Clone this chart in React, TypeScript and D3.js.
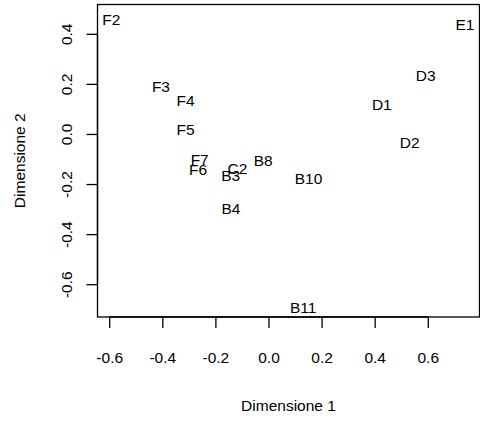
import React, { useEffect, useRef } from 'react';
import * as d3 from 'd3';

// point labels and their coordinates
const labels = ['F2', 'E1', 'D3', 'F3', 'F4', 'D1', 'F5', 'D2', 'F7', 'F6', 'C2', 'B3', 'B8', 'B10', 'B4', 'B11'];
const dim1 = [-0.594, 0.738, 0.590, -0.407, -0.314, 0.425, -0.314, 0.530, -0.261, -0.267, -0.119, -0.144, -0.022, 0.149, -0.143, 0.129];
const dim2 = [0.459, 0.441, 0.237, 0.190, 0.135, 0.121, 0.021, -0.033, -0.100, -0.140, -0.135, -0.163, -0.102, -0.177, -0.295, -0.692];

const xTicks = [-0.6, -0.4, -0.2, 0.0, 0.2, 0.4, 0.6];
const yTicks = [-0.6, -0.4, -0.2, 0.0, 0.2, 0.4];

const width = 480;
const height = 421;
const box = { left: 97.5, top: 4.5, right: 479.5, bottom: 317 };

const App = () => {
  const svgRef = useRef<SVGSVGElement | null>(null);

  useEffect(() => {
    if (!svgRef.current) return;
    d3.select(svgRef.current).selectAll('*').remove();

    const font = 'Liberation Sans, Arial, sans-serif';
    const fs = 15.5;

    const svg = d3.select(svgRef.current);

    const x = d3.scaleLinear().domain([-0.646, 0.793]).range([box.left, box.right]);
    const y = d3.scaleLinear().domain([-0.729, 0.519]).range([box.bottom, box.top]);

    // plot frame
    svg.append('rect')
      .attr('x', box.left)
      .attr('y', box.top)
      .attr('width', box.right - box.left)
      .attr('height', box.bottom - box.top)
      .attr('fill', 'none')
      .attr('stroke', '#000')
      .attr('stroke-width', 1.3);

    // x axis ticks + labels
    svg.append('line')
      .attr('x1', x(xTicks[0])).attr('x2', x(xTicks[xTicks.length - 1]))
      .attr('y1', box.bottom).attr('y2', box.bottom)
      .attr('stroke', '#000').attr('stroke-width', 1.3);
    xTicks.forEach(t => {
      svg.append('line')
        .attr('x1', x(t)).attr('x2', x(t))
        .attr('y1', box.bottom).attr('y2', box.bottom + 11)
        .attr('stroke', '#000').attr('stroke-width', 1.3);
      svg.append('text')
        .attr('x', x(t))
        .attr('y', 363)
        .attr('text-anchor', 'middle')
        .attr('font-family', font)
        .attr('font-size', fs)
        .attr('fill', '#000')
        .text(d3.format('.1f')(t).replace('−', '-'));
    });

    // y axis ticks + labels (rotated, as in R)
    svg.append('line')
      .attr('x1', box.left).attr('x2', box.left)
      .attr('y1', y(yTicks[0])).attr('y2', y(yTicks[yTicks.length - 1]))
      .attr('stroke', '#000').attr('stroke-width', 1.3);
    yTicks.forEach(t => {
      svg.append('line')
        .attr('x1', box.left - 11).attr('x2', box.left)
        .attr('y1', y(t)).attr('y2', y(t))
        .attr('stroke', '#000').attr('stroke-width', 1.3);
      svg.append('text')
        .attr('transform', `translate(71.5,${y(t)}) rotate(-90)`)
        .attr('text-anchor', 'middle')
        .attr('font-family', font)
        .attr('font-size', fs)
        .attr('fill', '#000')
        .text(d3.format('.1f')(t).replace('−', '-'));
    });

    // axis titles
    svg.append('text')
      .attr('x', (box.left + box.right) / 2)
      .attr('y', 411)
      .attr('text-anchor', 'middle')
      .attr('font-family', font)
      .attr('font-size', fs)
      .attr('fill', '#000')
      .text('Dimensione 1');

    svg.append('text')
      .attr('transform', `translate(25,${(box.top + box.bottom) / 2}) rotate(-90)`)
      .attr('text-anchor', 'middle')
      .attr('font-family', font)
      .attr('font-size', fs)
      .attr('fill', '#000')
      .text('Dimensione 2');

    // point labels
    labels.forEach((lab, i) => {
      svg.append('text')
        .attr('x', x(dim1[i]))
        .attr('y', y(dim2[i]))
        .attr('dy', '0.36em')
        .attr('text-anchor', 'middle')
        .attr('font-family', font)
        .attr('font-size', fs)
        .attr('fill', '#000')
        .text(lab);
    });
  }, []);

  return (
    <div>
      <style>{'body{margin:0}'}</style>
      <svg ref={svgRef} width={width} height={height} style={{ display: 'block', background: '#fff' }}></svg>
    </div>
  );
};

export default App;
